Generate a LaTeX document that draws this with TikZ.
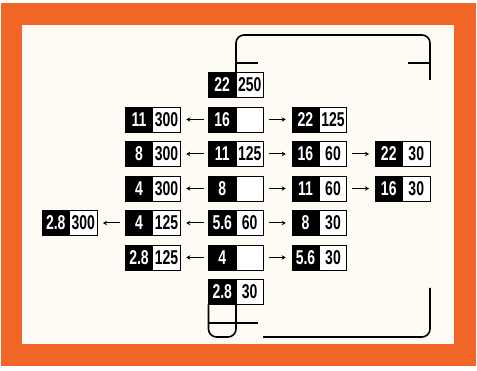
\documentclass[tikz,border=0pt]{standalone}
\usepackage{fontspec}
\usepackage{xcolor}
\usepackage{tikz}
\usetikzlibrary{arrows.meta, positioning}
\newfontfamily\numfont[FakeStretch=0.7]{Liberation Sans}
\definecolor{frameorange}{RGB}{241,102,38}
\definecolor{paper}{RGB}{253,251,244}

\begin{document}
\begin{tikzpicture}[x=1pt, y=-1pt,
  fcell/.style={rectangle, minimum width=27.5pt, minimum height=25pt, inner sep=0pt, outer sep=0pt, fill=black, draw=black, text=white, font=\numfont\bfseries\fontsize{20}{20}\selectfont},
  tcell/.style={rectangle, minimum width=27.5pt, minimum height=25pt, inner sep=0pt, outer sep=0pt, fill=white, draw=black, line width=0.9pt, text=black, font=\numfont\bfseries\fontsize{20}{20}\selectfont},
  arr/.style={-{Stealth[length=4pt, width=4.5pt]}, line width=1pt, shorten <=5pt, shorten >=6pt},
  fr/.style={line width=1.6pt, rounded corners=8pt}
]
% Frame
\useasboundingbox (0,0) rectangle (477,371);
\fill[frameorange] (1,3) rectangle (476,366);
\fill[paper] (22,25) rectangle (454,344);

% Middle column
\node[fcell] (m0f) at (222.25,85) {22};
\node[tcell, right=0pt of m0f] (m0s) {250};
\node[fcell] (m1f) at (222.25,119.5) {16};
\node[tcell, right=0pt of m1f] (m1s) {};
\node[fcell] (m2f) at (222.25,154) {11};
\node[tcell, right=0pt of m2f] (m2s) {125};
\node[fcell] (m3f) at (222.25,188.5) {8};
\node[tcell, right=0pt of m3f] (m3s) {};
\node[fcell] (m4f) at (222.25,223) {5.6};
\node[tcell, right=0pt of m4f] (m4s) {60};
\node[fcell] (m5f) at (222.25,257.5) {4};
\node[tcell, right=0pt of m5f] (m5s) {};
\node[fcell] (m6f) at (222.25,292) {2.8};
\node[tcell, right=0pt of m6f] (m6s) {30};

% Left columns
\node[fcell] (l1f) at (139,119.5) {11};
\node[tcell, right=0pt of l1f] (l1s) {300};
\node[fcell] (l2f) at (139,154) {8};
\node[tcell, right=0pt of l2f] (l2s) {300};
\node[fcell] (l3f) at (139,188.5) {4};
\node[tcell, right=0pt of l3f] (l3s) {300};
\node[fcell] (l4f) at (139,223) {4};
\node[tcell, right=0pt of l4f] (l4s) {125};
\node[fcell] (l5f) at (139,257.5) {2.8};
\node[tcell, right=0pt of l5f] (l5s) {125};
\node[fcell] (ll4f) at (55.75,223) {2.8};
\node[tcell, right=0pt of ll4f] (ll4s) {300};

% Right columns
\node[fcell] (r1f) at (305.5,119.5) {22};
\node[tcell, right=0pt of r1f] (r1s) {125};
\node[fcell] (r2f) at (305.5,154) {16};
\node[tcell, right=0pt of r2f] (r2s) {60};
\node[fcell] (r3f) at (305.5,188.5) {11};
\node[tcell, right=0pt of r3f] (r3s) {60};
\node[fcell] (r4f) at (305.5,223) {8};
\node[tcell, right=0pt of r4f] (r4s) {30};
\node[fcell] (r5f) at (305.5,257.5) {5.6};
\node[tcell, right=0pt of r5f] (r5s) {30};
\node[fcell] (rr2f) at (388.75,154) {22};
\node[tcell, right=0pt of rr2f] (rr2s) {30};
\node[fcell] (rr3f) at (388.75,188.5) {16};
\node[tcell, right=0pt of rr3f] (rr3s) {30};

% Arrows
\draw[arr] (m1f) -- (l1s);
\draw[arr] (m1s) -- (r1f);
\draw[arr] (m2f) -- (l2s);
\draw[arr] (m2s) -- (r2f);
\draw[arr] (r2s) -- (rr2f);
\draw[arr] (m3f) -- (l3s);
\draw[arr] (m3s) -- (r3f);
\draw[arr] (r3s) -- (rr3f);
\draw[arr] (l4f) -- (ll4s);
\draw[arr] (m4f) -- (l4s);
\draw[arr] (m4s) -- (r4f);
\draw[arr] (m5f) -- (l5s);
\draw[arr] (m5s) -- (r5f);

% Viewfinder marks
\draw[fr] (m0f.north east) -- (m0f.north east |- 0,35) -- (430,35) -- (430,80);
\draw[fr, rounded corners=0pt] (m0f.north east |- 0,63) -- ++(22,0);
\draw[fr, rounded corners=0pt] (430,63) -- ++(-22,0);
\draw[fr] (m6f.south west) -- (m6f.south west |- 0,337) -- (m6f.south east |- 0,337) -- (m6f.south east);
\draw[fr, rounded corners=0pt] (m6f.south west |- 0,323) -- (258,323);
\draw[fr] (263,337) -- (430,337) -- (430,288);
\end{tikzpicture}
\end{document}
